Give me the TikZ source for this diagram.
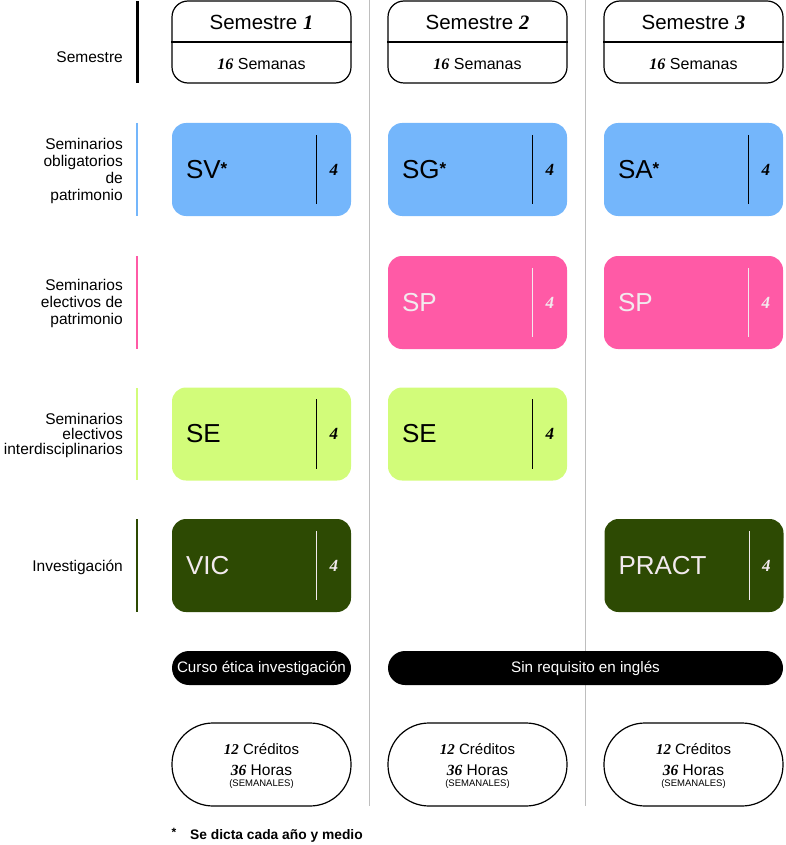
\documentclass[tikz,border=0pt]{standalone}
\usepackage{fontspec}
\setmainfont{Liberation Sans}
\newfontfamily\numfont{Liberation Serif}
\usetikzlibrary{positioning,calc}
\definecolor{SemBlue}{RGB}{116,182,251}
\definecolor{SemPink}{RGB}{255,90,166}
\definecolor{SemLime}{RGB}{210,252,122}
\definecolor{SemForest}{RGB}{45,74,3}
\definecolor{PaleText}{RGB}{242,234,238}
\definecolor{RuleGray}{RGB}{190,190,190}
\newcommand{\nm}[1]{{\numfont\bfseries\itshape #1}}
\newcommand{\yearmark}{\raisebox{4pt}{\bfseries\fontsize{17}{17}\selectfont *}}
\tikzset{
	sembox/.style={draw=black,line width=1.2pt,rounded corners=16pt,minimum width=179pt,minimum height=82pt,inner sep=0pt},
	course/.style={rounded corners=14pt,minimum width=179pt,minimum height=93pt,inner sep=0pt},
	code/.style={font=\fontsize{26}{26}\selectfont,inner sep=0pt,anchor=west},
	cred/.style={font=\numfont\bfseries\itshape\fontsize{17}{17}\selectfont,inner sep=0pt},
	rowlabel/.style={align=right,anchor=east,font=\fontsize{15.5}{17}\selectfont,inner sep=0pt},
	rowbar/.style={line width=2.5pt},
	sep/.style={draw=RuleGray,line width=1pt},
	pill/.style={fill=black,rounded corners=17pt,minimum height=34pt,inner sep=0pt,text=white,font=\fontsize{15.2}{17}\selectfont},
	total/.style={draw=black,line width=1.2pt,rounded corners=41pt,minimum width=179pt,minimum height=83pt,inner sep=0pt},
}

\begin{document}
\begin{tikzpicture}[x=1pt,y=-1pt]
	\useasboundingbox (0,0) rectangle (785,845);
	% column separators
	\coordinate (sepA1) at (369.5,0);
	\coordinate (sepA2) at (369.5,806);
	\coordinate (sepB1) at (585.5,0);
	\coordinate (sepB2) at (585.5,806);
	\draw[sep] (sepA1) -- (sepA2);
	\draw[sep] (sepB1) -- (sepB2);
	% row labels
	\coordinate (barS1) at (137,1);
	\coordinate (barS2) at (137,83);
	\coordinate (barO1) at (137,123);
	\coordinate (barO2) at (137,216);
	\coordinate (barE1) at (137,256);
	\coordinate (barE2) at (137,349);
	\coordinate (barI1) at (137,388);
	\coordinate (barI2) at (137,480);
	\coordinate (barV1) at (137,519);
	\coordinate (barV2) at (137,612);
	\draw[rowbar,line width=3pt,black] (barS1) -- (barS2);
	\draw[rowbar,SemBlue] (barO1) -- (barO2);
	\draw[rowbar,SemPink] (barE1) -- (barE2);
	\draw[rowbar,SemLime] (barI1) -- (barI2);
	\draw[rowbar,SemForest] (barV1) -- (barV2);
	\node[rowlabel] (lblsem) at (123,57) {Semestre};
	\node[rowlabel] (lblobl) at (123,171) {Seminarios\\obligatorios\\de\\patrimonio};
	\node[rowlabel] (lblele) at (123,303) {Seminarios\\electivos de\\patrimonio};
	\node[rowlabel,font=\fontsize{15.5}{15}\selectfont] (lblint) at (123,435) {Seminarios\\electivos\\interdisciplinarios};
	\node[rowlabel] (lblinv) at (123,567) {Investigación};
	% semester headers
	\node[sembox] (sem1) at (261.5,42) {};
	\node[sembox] (sem2) at (477.5,42) {};
	\node[sembox] (sem3) at (693.5,42) {};
	\draw[line width=1.2pt] (sem1.west) -- (sem1.east);
	\draw[line width=1.2pt] (sem2.west) -- (sem2.east);
	\draw[line width=1.2pt] (sem3.west) -- (sem3.east);
	\node[font=\fontsize{20.5}{20}\selectfont] (sem1t) at ($(sem1.north)+(0,22)$) {Semestre \nm{1}};
	\node[font=\fontsize{20.5}{20}\selectfont] (sem2t) at ($(sem2.north)+(0,22)$) {Semestre \nm{2}};
	\node[font=\fontsize{20.5}{20}\selectfont] (sem3t) at ($(sem3.north)+(0,22)$) {Semestre \nm{3}};
	\node[font=\fontsize{16}{16}\selectfont] (sem1w) at ($(sem1.south)+(0,-20)$) {\nm{16} Semanas};
	\node[font=\fontsize{16}{16}\selectfont] (sem2w) at ($(sem2.south)+(0,-20)$) {\nm{16} Semanas};
	\node[font=\fontsize{16}{16}\selectfont] (sem3w) at ($(sem3.south)+(0,-20)$) {\nm{16} Semanas};
	% obligatorios
	\node[course,fill=SemBlue] (sv) at (261.5,169.5) {};
	\node[course,fill=SemBlue] (sg) at (477.5,169.5) {};
	\node[course,fill=SemBlue] (sa) at (693.5,169.5) {};
	\node[code,right=14pt of sv.west] (svt) {SV\yearmark};
	\node[code,right=14pt of sg.west] (sgt) {SG\yearmark};
	\node[code,right=14pt of sa.west] (sat) {SA\yearmark};
	\draw[line width=1pt] ($(sv.north west)+(145,12)$) -- ($(sv.south west)+(145,-12)$);
	\draw[line width=1pt] ($(sg.north west)+(145,12)$) -- ($(sg.south west)+(145,-12)$);
	\draw[line width=1pt] ($(sa.north west)+(145,12)$) -- ($(sa.south west)+(145,-12)$);
	\node[cred] (svn) at ($(sv.west)+(162,0)$) {4};
	\node[cred] (sgn) at ($(sg.west)+(162,0)$) {4};
	\node[cred] (san) at ($(sa.west)+(162,0)$) {4};
	% electivos de patrimonio
	\node[course,fill=SemPink] (sp2) at (477.5,302.5) {};
	\node[course,fill=SemPink] (sp3) at (693.5,302.5) {};
	\node[code,text=PaleText,right=14pt of sp2.west] (sp2t) {SP};
	\node[code,text=PaleText,right=14pt of sp3.west] (sp3t) {SP};
	\draw[PaleText,line width=1pt] ($(sp2.north west)+(145,12)$) -- ($(sp2.south west)+(145,-12)$);
	\draw[PaleText,line width=1pt] ($(sp3.north west)+(145,12)$) -- ($(sp3.south west)+(145,-12)$);
	\node[cred,text=PaleText] (sp2n) at ($(sp2.west)+(162,0)$) {4};
	\node[cred,text=PaleText] (sp3n) at ($(sp3.west)+(162,0)$) {4};
	% interdisciplinarios
	\node[course,fill=SemLime] (se1) at (261.5,434) {};
	\node[course,fill=SemLime] (se2) at (477.5,434) {};
	\node[code,right=14pt of se1.west] (se1t) {SE};
	\node[code,right=14pt of se2.west] (se2t) {SE};
	\draw[line width=1pt] ($(se1.north west)+(145,12)$) -- ($(se1.south west)+(145,-12)$);
	\draw[line width=1pt] ($(se2.north west)+(145,12)$) -- ($(se2.south west)+(145,-12)$);
	\node[cred] (se1n) at ($(se1.west)+(162,0)$) {4};
	\node[cred] (se2n) at ($(se2.west)+(162,0)$) {4};
	% investigacion
	\node[course,fill=SemForest] (vic) at (261.5,565.5) {};
	\node[course,fill=SemForest] (pract) at (694,565.5) {};
	\node[code,text=PaleText,right=14pt of vic.west] (vict) {VIC};
	\node[code,text=PaleText,right=14pt of pract.west] (practt) {PRACT};
	\draw[PaleText,line width=1pt] ($(vic.north west)+(145,12)$) -- ($(vic.south west)+(145,-12)$);
	\draw[PaleText,line width=1pt] ($(pract.north west)+(145,12)$) -- ($(pract.south west)+(145,-12)$);
	\node[cred,text=PaleText] (vicn) at ($(vic.west)+(162,0)$) {4};
	\node[cred,text=PaleText] (practn) at ($(pract.west)+(162,0)$) {4};
	% requisitos
	\node[pill,minimum width=179pt] (etica) at (261.5,668) {Curso ética investigación};
	\node[pill,minimum width=395pt] (ingles) at (585.5,668) {Sin requisito en inglés};
	% totales
	\node[total] (tot1) at (261.5,764.5) {};
	\node[total] (tot2) at (477.5,764.5) {};
	\node[total] (tot3) at (693.5,764.5) {};
	\node[font=\fontsize{15}{15}\selectfont] (tot1c) at ($(tot1.center)+(0,-15.5)$) {\nm{12} Créditos};
	\node[font=\fontsize{15}{15}\selectfont] (tot2c) at ($(tot2.center)+(0,-15.5)$) {\nm{12} Créditos};
	\node[font=\fontsize{15}{15}\selectfont] (tot3c) at ($(tot3.center)+(0,-15.5)$) {\nm{12} Créditos};
	\node[font=\fontsize{15.5}{15}\selectfont] (tot1h) at ($(tot1.center)+(0,6)$) {\nm{36} Horas};
	\node[font=\fontsize{15.5}{15}\selectfont] (tot2h) at ($(tot2.center)+(0,6)$) {\nm{36} Horas};
	\node[font=\fontsize{15.5}{15}\selectfont] (tot3h) at ($(tot3.center)+(0,6)$) {\nm{36} Horas};
	\node[font=\fontsize{9.5}{9}\selectfont,inner sep=0pt] (tot1s) at ($(tot1.center)+(0,19.5)$) {(SEMANALES)};
	\node[font=\fontsize{9.5}{9}\selectfont,inner sep=0pt] (tot2s) at ($(tot2.center)+(0,19.5)$) {(SEMANALES)};
	\node[font=\fontsize{9.5}{9}\selectfont,inner sep=0pt] (tot3s) at ($(tot3.center)+(0,19.5)$) {(SEMANALES)};
	% nota
	\node[font=\bfseries\fontsize{12}{12}\selectfont,inner sep=0pt] (star) at (174,832) {*};
	\node[anchor=west,font=\bfseries\fontsize{13.8}{14}\selectfont,inner sep=0pt] (note) at (190,836) {Se dicta cada año y medio};
\end{tikzpicture}
\end{document}
